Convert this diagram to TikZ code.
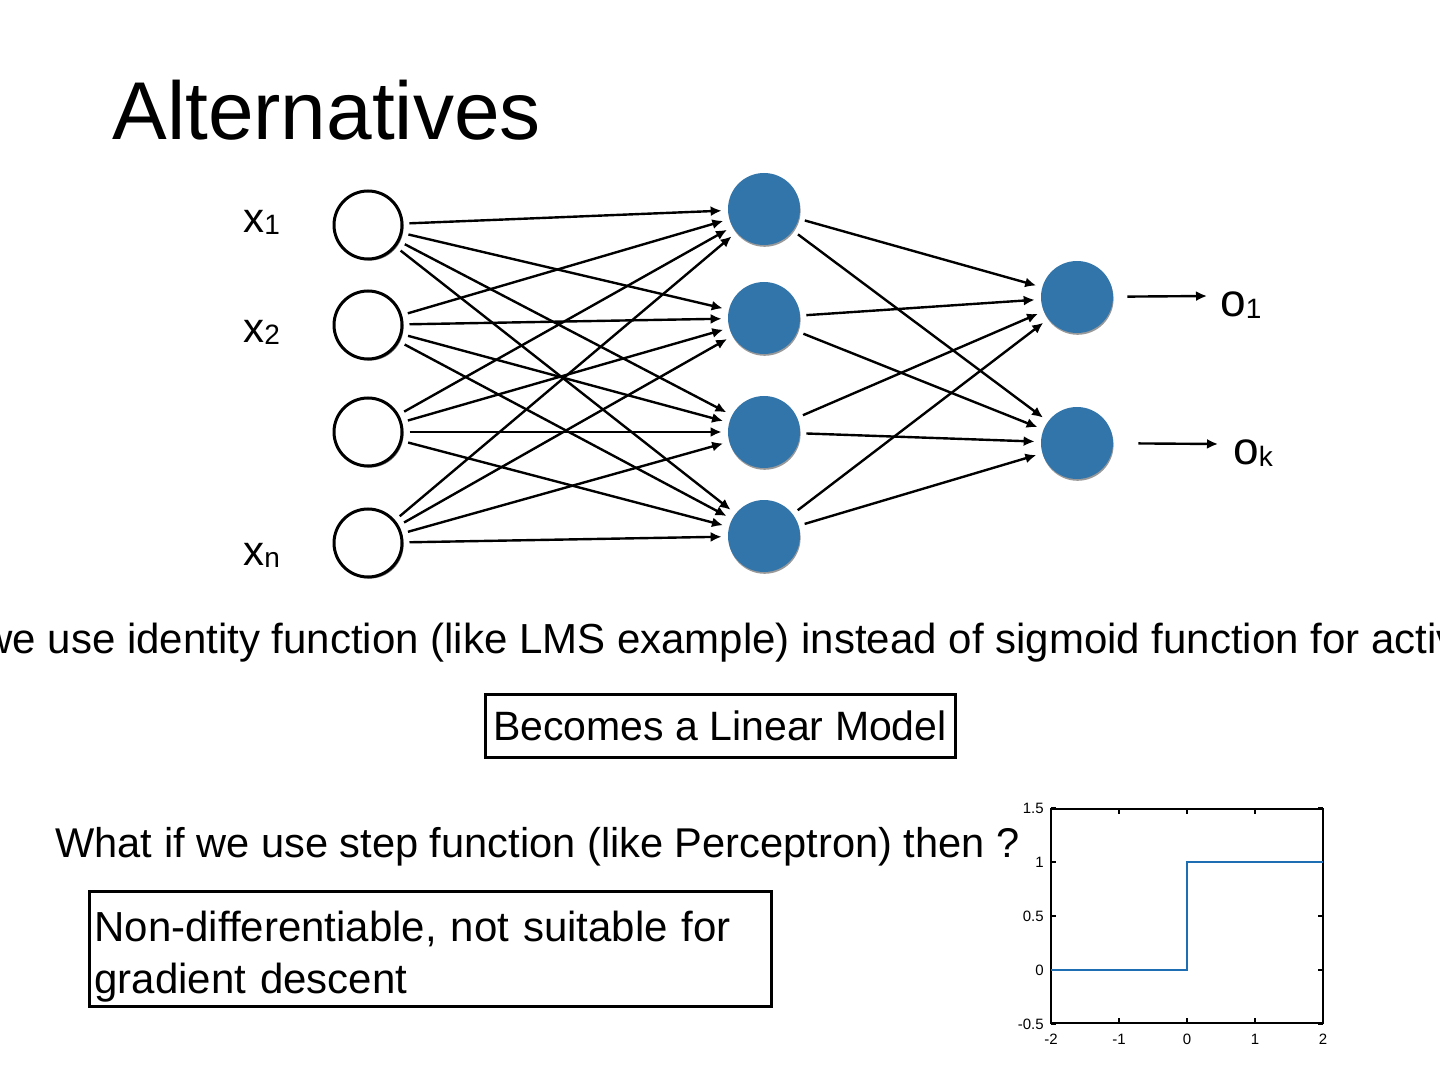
\documentclass[tikz,border=0pt]{standalone}
\usepackage{fontspec}
\setmainfont{Liberation Sans}
\usetikzlibrary{arrows.meta,shadows}
\definecolor{nodeblue}{RGB}{50,117,170}
\definecolor{plotblue}{RGB}{30,110,180}
\newcommand{\lbl}[3]{{\fontsize{#1}{#1}\selectfont #2}\raisebox{-1pt}{\fontsize{14}{14}\selectfont #3}}

\begin{document}
\begin{tikzpicture}[x=0.5pt,y=-0.5pt,
  inunit/.style={circle,draw=black,line width=1.5pt,fill=white,minimum size=34pt,inner sep=0pt,
    drop shadow={shadow xshift=0.8pt,shadow yshift=-0.8pt,fill=black!55,opacity=1}},
  hidunit/.style={circle,fill=nodeblue,minimum size=36pt,inner sep=0pt,
    drop shadow={shadow xshift=0.3pt,shadow yshift=-0.9pt,fill=black!40,opacity=1}},
  edge/.style={line width=1.2pt,-{Latex[length=5.5pt,width=5pt]},shorten >=3pt,shorten <=3pt},
  textbox/.style={draw=black,line width=1.5pt,inner sep=2.5pt},
  ticklbl/.style={font=\fontsize{7.5}{7.5}\selectfont,inner sep=1pt}]
\useasboundingbox (0,0) rectangle (1440,1080);
% Title
\node[anchor=base west,inner sep=0pt,font=\fontsize{41}{41}\selectfont] (title) at (112,140) {Alternatives};
% Input layer
\node[inunit] (in1) at (368,225) {};
\node[inunit] (in2) at (368,325) {};
\node[inunit] (in3) at (368,432) {};
\node[inunit] (in4) at (368,543) {};
\node[anchor=base west,inner sep=0pt] (lx1) at (243,233) {\lbl{21}{x}{1}};
\node[anchor=base west,inner sep=0pt] (lx2) at (243,343) {\lbl{21}{x}{2}};
\node[anchor=base west,inner sep=0pt] (lxn) at (243,565) {\lbl{21}{x}{n}};
% Hidden layer
\node[hidunit] (hid1) at (764,209) {};
\node[hidunit] (hid2) at (764,318) {};
\node[hidunit] (hid3) at (764,432) {};
\node[hidunit] (hid4) at (764,536) {};
% Output layer
\node[hidunit] (out1) at (1077,297) {};
\node[hidunit] (out2) at (1077,443) {};
% Connections
\foreach \i in {1,...,4}
  \foreach \j in {1,...,4}
    \draw[edge] (in\i) -- (hid\j);
\foreach \j in {1,...,4}
  \foreach \k in {1,2}
    \draw[edge] (hid\j) -- (out\k);
% Outputs
\coordinate (end1) at (1207,296);
\coordinate (end2) at (1218,444);
\draw[edge,shorten <=7pt,shorten >=0pt] (out1) -- (end1);
\draw[edge,shorten <=12.5pt,shorten >=0pt] (out2) -- (end2);
\node[anchor=base west,inner sep=0pt] (lo1) at (1220,317) {\lbl{23}{o}{1}};
\node[anchor=base west,inner sep=0pt] (lok) at (1233,465) {\lbl{23}{o}{k}};
% Texts
\node[anchor=base west,inner sep=0pt,font=\fontsize{21}{24}\selectfont] (q1) at (-18,653)
  {we use identity function (like LMS example) instead of sigmoid function for activ};
\node[textbox,minimum width=235pt,minimum height=31.5pt,font=\fontsize{20.5}{24}\selectfont] (lin) at (720,725.5)
  {Becomes a Linear Model};
\node[anchor=base west,inner sep=0pt,font=\fontsize{20.8}{25}\selectfont] (q2) at (55,857)
  {What if we use step function (like Perceptron) then ?};
\node[textbox,anchor=north west,text width=336pt,minimum height=56.5pt,align=left,
  font=\fontsize{21}{26}\selectfont] (nd) at (88,890)
  {\rule{0pt}{22.3pt}Non-differentiable, not suitable for\\gradient descent};
% Step function plot
\draw[line width=0.8pt] (1051,809) rectangle (1323,1023);
\foreach \x in {-2,...,2} {
  \draw[line width=0.6pt] ({1187+68*\x},1023) -- ++(0,-5);
  \draw[line width=0.6pt] ({1187+68*\x},809) -- ++(0,5);
  \node[ticklbl,anchor=north] at ({1187+68*\x},1032) {\x};
}
\foreach \y in {-0.5,0,0.5,1,1.5} {
  \draw[line width=0.6pt] (1051,{970-108*\y}) -- ++(5,0);
  \draw[line width=0.6pt] (1323,{970-108*\y}) -- ++(-5,0);
  \node[ticklbl,anchor=east] at (1046,{970-108*\y}) {\y};
}
\draw[plotblue,line width=1pt] (1051,970) -- (1187,970) -- (1187,862) -- (1323,862);
\end{tikzpicture}
\end{document}
